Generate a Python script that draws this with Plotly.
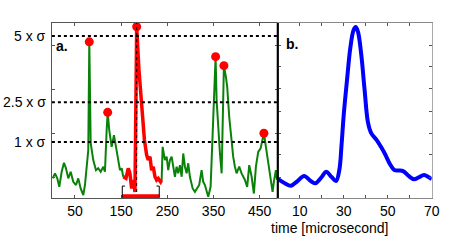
import plotly.graph_objects as go

# ---- panel a: noisy signal (in sigma units) ----
green1_x = [1.7, 6.7, 11.7, 16.0, 21.2, 26.2, 30.5, 35.5, 40.7, 46.3, 52.2, 57.1, 62.3, 68.0, 71.6, 75.3,
            78.8, 81.0, 84.0, 89.6, 95.5, 100.4, 105.6, 111.3, 114.9, 118.6, 120.8, 124.2, 129.4, 134.4,
            138.7, 143.7, 147.4, 151.1, 154.5]
green1_y = [-0.37, -0.18, -0.37, -0.69, -0.12, 0.22, 0.01, -0.37, -0.12, -0.50, -0.62, -0.37, -0.75, -1.0,
            -0.62, 0.01, 0.70, 4.78, 0.96, 0.32, -0.06, 0.01, -0.12, 0.07, -0.12, 1.45, 2.12, 1.45, 0.82,
            1.26, 0.82, 0.45, -0.06, 0.01, -0.31]

red_x = [154.5, 160.4, 165.4, 169.0, 172.7, 176.2, 179.9, 183.6, 188.5, 195.0, 200.4, 205.2, 208.7, 212.3,
         216.0, 219.5, 223.2, 226.8, 230.3, 235.5, 237.7]
red_y = [-0.31, -0.37, 0.01, -0.18, -0.75, -0.43, -0.88, 5.35, 3.72, 2.21, 1.08, 0.51, 0.32, 0.45,
         -0.06, 0.07, -0.31, -0.43, -0.37, -0.50, -0.43]

green2_x = [237.7, 239.8, 244.8, 248.5, 251.9, 255.6, 259.3, 262.8, 266.4, 270.1, 273.6, 277.3, 281.0,
            284.4, 288.1, 291.8, 295.2, 298.9, 304.8, 309.7, 314.7, 319.0, 324.2, 327.7, 331.4, 335.0,
            338.5, 343.7, 348.0, 354.5, 356.7, 360.2, 363.9, 367.6, 372.5, 376.8, 379.6, 384.0, 389.2,
            392.6, 396.3, 400.0, 405.6, 410.8, 418.0, 422.9, 427.3, 432.5, 437.4, 441.8, 446.8, 451.9,
            459.1, 463.4, 468.4, 473.6, 477.9, 480.7, 485.0, 487.9]
green2_y = [-0.43, 0.82, 0.32, 0.45, -0.06, 0.32, 0.45, 0.07, -0.31, 0.07, -0.18, 0.13, -0.31, 0.57, 0.07,
            -0.18, 0.20, -0.31, -0.75, -0.88, -0.75, -0.62, -0.06, -0.50, -0.62, -0.81, -1.06, -0.69,
            1.08, 4.22, 2.58, 1.45, 0.57, -0.18, 3.88, 3.46, 3.09, 1.95, 0.95, 0.45, 0.07, -0.18, 0.07,
            -0.18, -0.43, -0.69, 0.13, -0.31, -0.94, 0.07, 0.63, 0.76, 1.33, 0.82, 0.07, -0.43, -0.88,
            -0.50, -0.06, -0.43]

peak_x = [81.0, 120.8, 183.6, 354.5, 372.5, 459.1]
peak_y = [4.78, 2.12, 5.35, 4.22, 3.88, 1.33]

threshold_vals = [5, 2.5, 1]
threshold_labels = ["5 x σ", "2.5 x σ", "1 x σ"]
window_x = [152.4, 232.5]
a_ticks = [50, 150, 250, 350, 450]

# ---- panel b: averaged pulse ----
b_t = [0, 3, 6, 9, 12, 15, 17, 20, 22, 24.5, 26.5, 28, 29, 30, 31.5, 33, 34.5, 35.5, 36.5, 38, 39.5,
       41, 42.5, 45, 47, 49, 51, 53, 55, 57, 59.5, 62, 64, 66.5, 68.5, 70]
b_v = [0.109, 0.086, 0.070, 0.097, 0.126, 0.097, 0.084, 0.12, 0.150, 0.12, 0.097, 0.16, 0.30, 0.474,
       0.674, 0.857, 0.96, 0.977, 0.949, 0.817, 0.617, 0.434, 0.371, 0.331, 0.291, 0.246, 0.194, 0.16,
       0.157, 0.154, 0.126, 0.107, 0.117, 0.131, 0.12, 0.107]
b_ticks = [10, 30, 50, 70]

GREEN = "#0a820a"
FONT = "Liberation Sans, Arial, sans-serif"

fig = go.Figure()
fig.add_trace(go.Scatter(x=green1_x, y=green1_y, mode="lines", line=dict(color=GREEN, width=2),
                         xaxis="x", yaxis="y", showlegend=False))
fig.add_trace(go.Scatter(x=green2_x, y=green2_y, mode="lines", line=dict(color=GREEN, width=2),
                         xaxis="x", yaxis="y", showlegend=False))
fig.add_trace(go.Scatter(x=red_x, y=red_y, mode="lines", line=dict(color="#ff0000", width=3.5),
                         xaxis="x", yaxis="y", showlegend=False))
fig.add_trace(go.Scatter(x=peak_x, y=peak_y, mode="markers", marker=dict(color="#ff0000", size=9),
                         xaxis="x", yaxis="y", showlegend=False))
fig.add_trace(go.Scatter(x=b_t, y=b_v, mode="lines", line=dict(color="#0000ff", width=4, shape="spline"),
                         xaxis="x2", yaxis="y2", showlegend=False))

shapes = []
for v in threshold_vals:
    shapes.append(dict(type="line", xref="x domain", yref="y", x0=0, x1=1, y0=v, y1=v,
                       line=dict(color="black", width=2, dash="3px,3px")))
# dotted vertical through the main peak
shapes.append(dict(type="line", xref="x", yref="y domain", x0=peak_x[2], x1=peak_x[2], y0=0, y1=1,
                   line=dict(color="black", width=1, dash="dot")))
# window bracket
shapes.append(dict(type="line", xref="x", yref="y", x0=window_x[0], x1=window_x[1], y0=-1.04, y1=-1.04,
                   line=dict(color="#ff0000", width=4)))
for i, xv in enumerate(window_x):
    d = 6 if i == 0 else -6
    shapes.append(dict(type="path", xref="x", yref="y",
                       path=f"M {xv + d},-0.66 L {xv},-0.66 L {xv},-1.1",
                       line=dict(color="black", width=1)))
# divider between panels
shapes.append(dict(type="line", xref="paper", yref="paper", x0=0.6144, x1=0.6144, y0=0.175, y1=0.9042,
                   line=dict(color="black", width=2)))

annotations = []
for v, lab in zip(threshold_vals, threshold_labels):
    annotations.append(dict(text=lab, xref="paper", yref="y", x=0.106, y=v, xanchor="right",
                            yanchor="middle", showarrow=False, font=dict(size=14, color="black", family=FONT)))
annotations.append(dict(text="<b>a.</b>", xref="x domain", yref="y domain", x=0.01, y=0.87,
                        xanchor="left", yanchor="middle", showarrow=False,
                        font=dict(size=14, color="black", family=FONT)))
annotations.append(dict(text="<b>b.</b>", xref="x2 domain", yref="y2 domain", x=0.04, y=0.88,
                        xanchor="left", yanchor="middle", showarrow=False,
                        font=dict(size=14, color="black", family=FONT)))
annotations.append(dict(text="time [microsecond]", xref="paper", yref="paper", x=0.73, y=0.05,
                        xanchor="center", yanchor="middle", showarrow=False,
                        font=dict(size=14, color="black", family=FONT)))

axis_common = dict(showgrid=False, zeroline=False, ticks="inside", ticklen=3, tickcolor="#555",
                   showline=True, linecolor="#555", linewidth=1, mirror="ticks", automargin=False,
                   tickfont=dict(size=14, color="black", family=FONT))

fig.update_layout(
    width=452, height=240, margin=dict(l=0, r=0, t=0, b=0),
    paper_bgcolor="white", plot_bgcolor="white",
    xaxis=dict(domain=[0.1148, 0.6144], range=[0, 489], tickvals=a_ticks, anchor="y", **axis_common),
    yaxis=dict(domain=[0.175, 0.9042], range=[-1.11, 5.49], tickvals=[-0.34, 1.32, 2.98, 4.64],
               showticklabels=False, anchor="x", **axis_common),
    xaxis2=dict(domain=[0.6144, 0.9551], range=[0, 70], tickvals=[10, 20, 30, 40, 50, 60, 70],
                ticktext=["10", "", "30", "", "50", "", "70"], anchor="y2", **axis_common),
    yaxis2=dict(domain=[0.175, 0.9042], range=[0, 1],
                tickvals=[0.12, 0.246, 0.371, 0.497, 0.623, 0.749, 0.874],
                showticklabels=False, anchor="x2", **axis_common),
    shapes=shapes, annotations=annotations,
)
fig.update_layout(xaxis2=dict(linecolor="#888"), yaxis2=dict(linecolor="#aaa"))

fig.write_html("out.html", config={"displayModeBar": False},
               post_script="document.body.style.margin='0';document.body.style.overflow='hidden';")
